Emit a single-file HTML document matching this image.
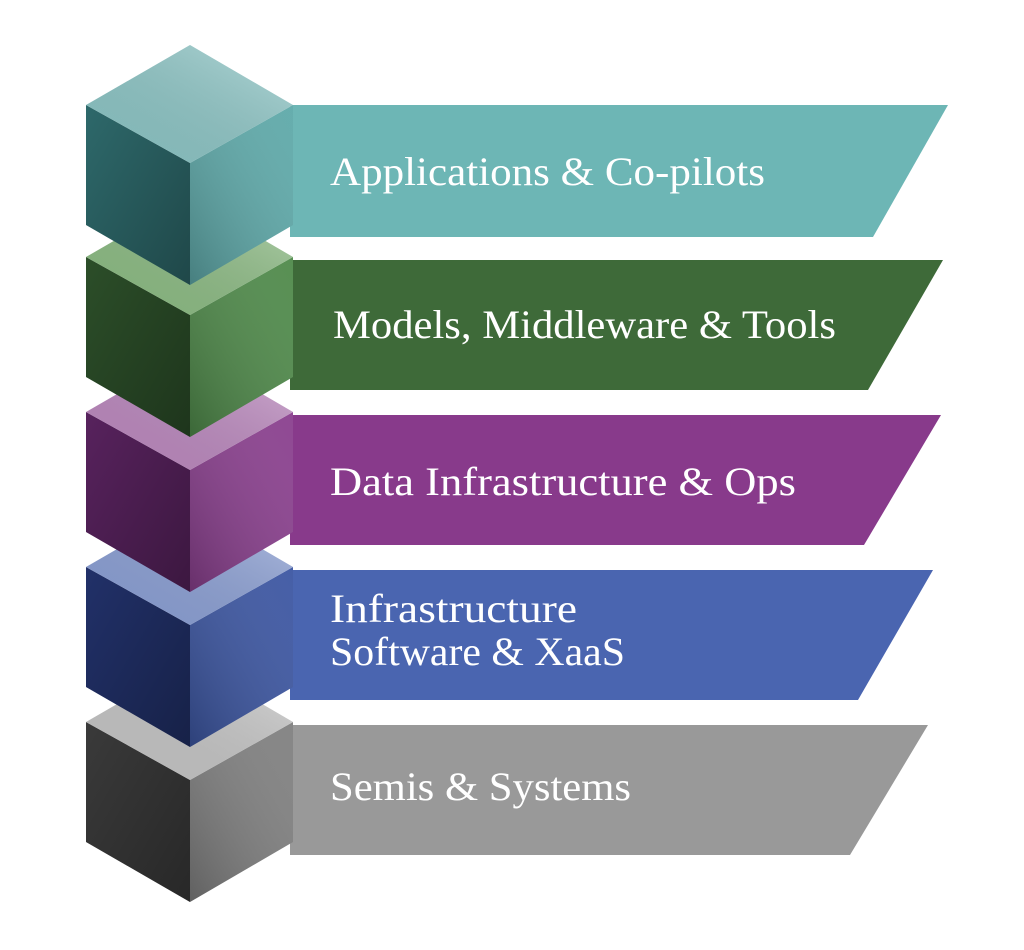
<!DOCTYPE html>
<html><head><meta charset="utf-8"><style>
html,body{margin:0;padding:0;background:#fff;}
svg{display:block}
text{font-family:"Liberation Serif",serif;fill:#fff;font-size:40px;}
</style></head><body>
<svg width="1024" height="950" viewBox="0 0 1024 950" xmlns="http://www.w3.org/2000/svg">
<defs>
<linearGradient id="gl" x1="0" y1="0" x2="1" y2="1"><stop offset="0" stop-color="#000" stop-opacity="0.05"/><stop offset="1" stop-color="#000" stop-opacity="0.35"/></linearGradient>
<linearGradient id="gr" x1="1" y1="0" x2="0" y2="1"><stop offset="0" stop-color="#fff" stop-opacity="0.05"/><stop offset="1" stop-color="#000" stop-opacity="0.25"/></linearGradient>
<linearGradient id="gt" x1="0" y1="1" x2="1" y2="0"><stop offset="0" stop-color="#000" stop-opacity="0.05"/><stop offset="1" stop-color="#fff" stop-opacity="0.35"/></linearGradient>
</defs>
<!-- banners -->
<polygon points="290,105 948,105 873,237 290,237" fill="#6db6b5"/>
<polygon points="290,260 943,260 868,390 290,390" fill="#3e6a39"/>
<polygon points="290,415 941,415 864,545 290,545" fill="#883a8b"/>
<polygon points="290,570 933,570 858,700 290,700" fill="#4a65b0"/>
<polygon points="290,725 928,725 850,855 290,855" fill="#999999"/>

<!-- cubes bottom-up; T = top vertex -->
<g transform="translate(0,662)">
<polygon points="86,60 190,118 190,240 86,180" fill="#3d3d3d"/><polygon points="86,60 190,118 190,240 86,180" fill="url(#gl)"/>
<polygon points="293,60 190,118 190,240 293,180" fill="#808080"/><polygon points="293,60 190,118 190,240 293,180" fill="url(#gr)"/>
<polygon points="190,0 293,60 190,118 86,60" fill="#c9c9c9"/><polygon points="190,0 293,60 190,118 86,60" fill="url(#gt)"/>
</g>
<g transform="translate(0,507)">
<polygon points="86,60 190,118 190,240 86,180" fill="#23336e"/><polygon points="86,60 190,118 190,240 86,180" fill="url(#gl)"/>
<polygon points="293,60 190,118 190,240 293,180" fill="#3c56a2"/><polygon points="293,60 190,118 190,240 293,180" fill="url(#gr)"/>
<polygon points="190,0 293,60 190,118 86,60" fill="#8ea3da"/><polygon points="190,0 293,60 190,118 86,60" fill="url(#gt)"/>
</g>
<g transform="translate(0,352)">
<polygon points="86,60 190,118 190,240 86,180" fill="#5c2462"/><polygon points="86,60 190,118 190,240 86,180" fill="url(#gl)"/>
<polygon points="293,60 190,118 190,240 293,180" fill="#8a3f8e"/><polygon points="293,60 190,118 190,240 293,180" fill="url(#gr)"/>
<polygon points="190,0 293,60 190,118 86,60" fill="#c08bc3"/><polygon points="190,0 293,60 190,118 86,60" fill="url(#gt)"/>
</g>
<g transform="translate(0,197)">
<polygon points="86,60 190,118 190,240 86,180" fill="#2e522b"/><polygon points="86,60 190,118 190,240 86,180" fill="url(#gl)"/>
<polygon points="293,60 190,118 190,240 293,180" fill="#4f8a4a"/><polygon points="293,60 190,118 190,240 293,180" fill="url(#gr)"/>
<polygon points="190,0 293,60 190,118 86,60" fill="#8fc086"/><polygon points="190,0 293,60 190,118 86,60" fill="url(#gt)"/>
</g>
<g transform="translate(0,45)">
<polygon points="86,60 190,118 190,240 86,180" fill="#306e70"/><polygon points="86,60 190,118 190,240 86,180" fill="url(#gl)"/>
<polygon points="293,60 190,118 190,240 293,180" fill="#5ea9a9"/><polygon points="293,60 190,118 190,240 293,180" fill="url(#gr)"/>
<polygon points="190,0 293,60 190,118 86,60" fill="#8fcaca"/><polygon points="190,0 293,60 190,118 86,60" fill="url(#gt)"/>
</g>

<text x="330" y="185" textLength="435" lengthAdjust="spacingAndGlyphs">Applications &amp; Co-pilots</text>
<text x="333" y="338" textLength="503" lengthAdjust="spacingAndGlyphs">Models, Middleware &amp; Tools</text>
<text x="330" y="495" textLength="466" lengthAdjust="spacingAndGlyphs">Data Infrastructure &amp; Ops</text>
<text x="330" y="622" textLength="247" lengthAdjust="spacingAndGlyphs">Infrastructure</text>
<text x="330" y="665" textLength="295" lengthAdjust="spacingAndGlyphs">Software &amp; XaaS</text>
<text x="330" y="800" textLength="301" lengthAdjust="spacingAndGlyphs">Semis &amp; Systems</text>
</svg>
</body></html>
